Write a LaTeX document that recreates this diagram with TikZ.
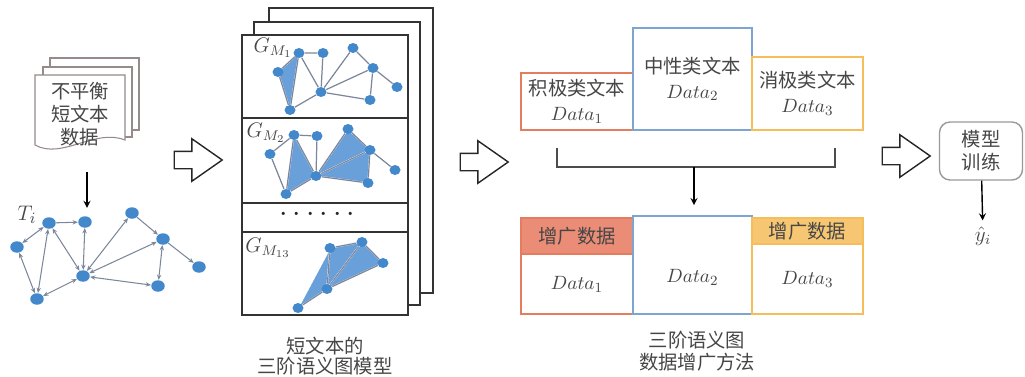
\documentclass[tikz,border=0pt]{standalone}
\usepackage{fontspec}
\setmainfont{Noto Sans CJK SC}
\usepackage{amsmath}
\usetikzlibrary{shapes.geometric, shapes.arrows, arrows.meta, positioning, calc}
\definecolor{nodeblue}{RGB}{68,136,204}
\definecolor{edgegray}{RGB}{125,135,155}
\definecolor{triblue}{RGB}{105,160,218}
\definecolor{posorange}{RGB}{228,125,95}
\definecolor{posfill}{RGB}{234,140,118}
\definecolor{neublue}{RGB}{125,165,210}
\definecolor{negyellow}{RGB}{245,190,90}
\definecolor{negfill}{RGB}{247,198,115}
\definecolor{textgray}{RGB}{70,70,70}
\definecolor{docgray}{RGB}{150,138,138}
\tikzstyle{vtx} = [ellipse, fill=nodeblue, minimum width=0.27cm, minimum height=0.23cm, inner sep=0pt]
\tikzstyle{svtx} = [ellipse, fill=nodeblue, minimum width=0.22cm, minimum height=0.2cm, inner sep=0pt]
\tikzstyle{gedge} = [draw=edgegray, line width=0.6pt, {Stealth[length=3pt,width=2.5pt]}-{Stealth[length=3pt,width=2.5pt]}]
\tikzstyle{pedge} = [draw=edgegray, line width=0.7pt]
\tikzstyle{tri} = [fill=triblue, draw=white, line width=0.8pt]
\tikzstyle{page} = [draw=black!80, line width=1pt, fill=white]
\tikzstyle{docpage} = [draw=docgray, line width=0.6pt, fill=white]
\tikzstyle{catbox} = [rectangle, draw, line width=1pt, fill=white, inner sep=0pt, align=center, text=textgray, font=\fontsize{11}{14}\selectfont]
\tikzstyle{bigarrow} = [single arrow, draw=black!85, thick, fill=white, minimum height=0.96cm, minimum width=0.68cm, inner xsep=0pt, inner ysep=0.16cm, single arrow tip angle=70]
\tikzstyle{caption} = [align=center, text=textgray, font=\fontsize{11}{11.5}\selectfont]
\tikzstyle{arrow} = [thick,->,>=stealth]
\pgfdeclarelayer{front}
\pgfsetlayers{main,front}

\begin{document}
\begin{tikzpicture}[x=0.02cm, y=-0.02cm]
\useasboundingbox (0,0) rectangle (1025,376);

% ===== SHORT TEXT DATA =====
\draw [docpage] (50,58) rectangle (139,130);
\draw [docpage] (43,67) rectangle (132,137);
\draw [docpage] (35,75) -- (125,75) -- (125,140) .. controls (95,128) and (62,160) .. (35,145) -- cycle;
\node (doc_text) [caption, font=\fontsize{11}{13}\selectfont] at (80,114) {不平衡\\短文本\\数据};
\coordinate (doc_out) at (87,172);

% text graph T_i
\begin{pgfonlayer}{front}
\node (t1) [vtx] at (49,223) {};
\node (t2) [vtx] at (85,222) {};
\node (t3) [vtx] at (17,247) {};
\node (t4) [vtx] at (83,276) {};
\node (t5) [vtx] at (37,299) {};
\node (t6) [vtx] at (132,213) {};
\node (t7) [vtx] at (163,239) {};
\node (t8) [vtx] at (199,267) {};
\node (t9) [vtx] at (158,286) {};
\end{pgfonlayer}
\node (ti_label) [font=\fontsize{13}{15}\selectfont, text=textgray] at (27,215) {$T_i$};

\draw [arrow] (doc_out) -- ($(doc_out |- t2.north)+(0,-8)$);
\draw [draw=edgegray, line width=0.6pt, -{Stealth[length=3pt,width=2.5pt]}] (t1) -- (t2);
\draw [gedge] (t3) -- (t1);
\draw [gedge] (t1) -- (t5);
\draw [gedge] (t1) -- (t4);
\draw [gedge] (t2) -- (t4);
\draw [gedge] (t3) -- (t5);
\draw [gedge] (t5) -- (t4);
\draw [gedge] (t4) -- (t6);
\draw [gedge] (t4) -- (t7);
\draw [gedge] (t9) -- (t4);
\draw [draw=edgegray, line width=0.6pt, -{Stealth[length=3pt,width=2.5pt]}] (t6) -- (t7);
\draw [gedge] (t7) -- (t9);
\draw [draw=edgegray, line width=0.6pt, -{Stealth[length=3pt,width=2.5pt]}] (t7) -- (t8);

\node (hol1) [bigarrow] at (192,160) {};

% ===== THIRD-ORDER SEMANTIC GRAPH MODEL =====
\draw [page] (269,8) rectangle (433,293);
\draw [page] (254,22) rectangle (420,305);
\draw [page] (242,35) rectangle (408,315);
\draw [page] (242,118) -- (408,118);
\draw [page] (242,203) -- (408,203);
\draw [page] (242,232) -- (408,232);
\node (dots) [text=black!85, font=\fontsize{17}{18}\selectfont] at (320,215) {$\cdots\cdots$};

\node (gm1) [font=\fontsize{12}{14}\selectfont, text=textgray] at (273,48) {$G_{M_1}$};
\node (gm2) [font=\fontsize{12}{14}\selectfont, text=textgray] at (266,133) {$G_{M_2}$};
\node (gm13) [font=\fontsize{12}{14}\selectfont, text=textgray] at (268,248) {$G_{M_{13}}$};

\begin{pgfonlayer}{front}
% panel 1
\node (a1) [svtx] at (299,53) {};
\node (a2) [svtx] at (323,53) {};
\node (a3) [svtx] at (278,72) {};
\node (a4) [svtx] at (321,92) {};
\node (a5) [svtx] at (290,110) {};
\node (a6) [svtx] at (353,48) {};
\node (a7) [svtx] at (373,68) {};
\node (a8) [svtx] at (397,87) {};
\node (a9) [svtx] at (370,100) {};
% panel 2
\node (b1) [svtx] at (294,135) {};
\node (b2) [svtx] at (317,136) {};
\node (b3) [svtx] at (270,154) {};
\node (b4) [svtx] at (316,176) {};
\node (b5) [svtx] at (286,194) {};
\node (b6) [svtx] at (348,129) {};
\node (b7) [svtx] at (370,150) {};
\node (b8) [svtx] at (395,170) {};
\node (b9) [svtx] at (368,183) {};
% panel 13
\node (c1) [svtx] at (330,248) {};
\node (c2) [svtx] at (362,242) {};
\node (c3) [svtx] at (383,263) {};
\node (c4) [svtx] at (327,289) {};
\node (c5) [svtx] at (298,308) {};
\end{pgfonlayer}

\fill [tri] (a3.center) -- (a1.center) -- (a5.center) -- cycle;
\fill [tri] (b1.center) -- (b4.center) -- (b5.center) -- cycle;
\fill [tri] (b6.center) -- (b7.center) -- (b4.center) -- cycle;
\fill [tri] (b7.center) -- (b9.center) -- (b4.center) -- cycle;
\fill [tri] (c5.center) -- (c1.center) -- (c4.center) -- cycle;
\fill [tri] (c1.center) -- (c2.center) -- (c4.center) -- cycle;
\fill [tri] (c2.center) -- (c3.center) -- (c4.center) -- cycle;

\draw [pedge] (a1) -- (a2) (a3) -- (a1) (a1) -- (a5) (a1) -- (a4) (a2) -- (a4) (a3) -- (a5)
  (a5) -- (a4) (a4) -- (a6) (a4) -- (a7) (a9) -- (a4) (a6) -- (a7) (a7) -- (a9) (a7) -- (a8);
\draw [pedge] (b1) -- (b2) (b3) -- (b1) (b1) -- (b5) (b1) -- (b4) (b2) -- (b4) (b3) -- (b5)
  (b5) -- (b4) (b4) -- (b6) (b4) -- (b7) (b9) -- (b4) (b6) -- (b7) (b7) -- (b9) (b7) -- (b8);
\draw [pedge] (c1) -- (c2) (c2) -- (c3) (c1) -- (c4) (c2) -- (c4) (c3) -- (c4) (c4) -- (c5);

\node (model_caption) [caption] at (325,356) {短文本的\\三阶语义图模型};

\node (hol2) [bigarrow] at (478,162) {};

% ===== DATA AUGMENTATION =====
\node (pos_box) [catbox, draw=posorange, minimum width=2.24cm, minimum height=1.14cm] at (577,101.5) {积极类文本\\$Data_1$};
\node (neu_box) [catbox, draw=neublue, minimum width=2.38cm, minimum height=2.04cm] at (692.5,79) {中性类文本\\$Data_2$};
\node (neg_box) [catbox, draw=negyellow, minimum width=2.22cm, minimum height=1.46cm] at (807.5,93.5) {消极类文本\\$Data_3$};

\coordinate (br_l) at (557,148);
\coordinate (br_r) at (835,148);
\coordinate (br_mid) at (694,167);
\draw [draw=black!70, line width=0.8pt] (br_l) |- (br_r |- br_mid) -- (br_r);

\node (aug1_head) [catbox, draw=posorange, fill=posfill, minimum width=2.24cm, minimum height=0.72cm] at (577,236) {增广数据};
\node (aug1_data) [catbox, draw=posorange, minimum width=2.24cm, minimum height=1.2cm] at (577,284) {$Data_1$};
\node (aug2) [catbox, draw=neublue, minimum width=2.38cm, minimum height=1.96cm] at (692.5,265) {};
\node (aug2_text) [text=textgray, font=\fontsize{11}{14}\selectfont] at (692.5,277) {$Data_2$};
\node (aug3_head) [catbox, draw=negyellow, fill=negfill, minimum width=2.22cm, minimum height=0.52cm] at (807.5,231) {增广数据};
\node (aug3_data) [catbox, draw=negyellow, minimum width=2.22cm, minimum height=1.4cm] at (807.5,279) {$Data_3$};

\draw [arrow] (br_mid) -- ($(br_mid |- aug2.north)+(0,-10)$);

\node (aug_caption) [caption, font=\fontsize{11}{12.5}\selectfont] at (697,351) {三阶语义图\\数据增广方法};

% ===== MODEL TRAINING =====
\node (hol3) [bigarrow] at (900,156) {};
\node (train_box) [draw=black!40, rounded corners=6pt, line width=0.8pt, minimum width=1.66cm, minimum height=1.16cm, align=center, text=textgray, font=\fontsize{11}{13}\selectfont] at (981,151) {模型\\训练};
\node (yhat) [text=textgray, font=\fontsize{12}{14}\selectfont] at (983,236) {$\hat{y}_i$};
\draw [arrow] (train_box) -- (yhat);

\end{tikzpicture}
\end{document}
